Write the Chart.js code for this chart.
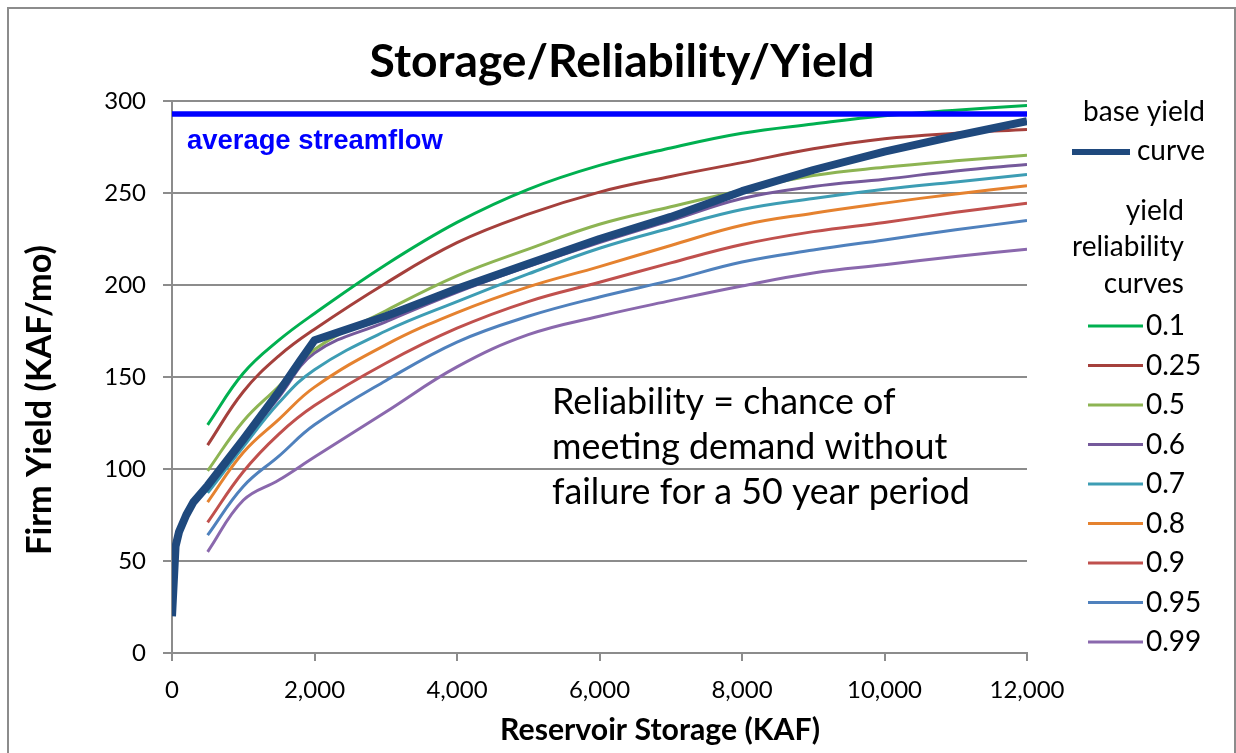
<!DOCTYPE html>
<html>
<head>
<meta charset="utf-8">
<title>Storage/Reliability/Yield</title>
<script src="https://cdn.jsdelivr.net/npm/chart.js@4.4.1/dist/chart.umd.min.js"></script>
<style>
    html, body { margin: 0; padding: 0; background: #fff; }
    #wrap { width: 1236px; height: 753px; position: relative; }
</style>
</head>
<body>
<div id="wrap"><canvas id="yieldChart"></canvas></div>
<script>
// reservoir storage (KAF) where the reliability curves were sampled
const storage = [500, 1000, 1500, 2000, 3000, 4000, 5000, 6000, 7000, 8000, 9000, 10000, 11000, 12000];

// firm yield (KAF/mo) for each reliability level
const rel010 = [124, 152, 170, 184.5, 211, 234, 252, 265, 274.5, 282.5, 287.5, 292, 295, 297.5];
const rel025 = [113, 142, 161.5, 176, 201, 223, 238.5, 250.5, 259, 266.5, 274, 279.5, 282.5, 284.5];
const rel050 = [99, 126, 145, 165, 186, 205, 219.5, 233, 242.5, 251.5, 259.5, 264, 267.5, 270.5];
const rel060 = [91, 115, 139, 163, 180, 196, 210, 223, 235, 247, 253.5, 257.5, 262, 265.5];
const rel070 = [87, 112, 136, 154, 175, 191, 206, 220, 231, 241, 247, 252, 256, 260];
const rel080 = [82, 109, 127, 144.5, 167.5, 185, 199, 210, 221.5, 232.5, 239, 244.5, 249.5, 254];
const rel090 = [71, 98.5, 119, 134.5, 157.5, 176.5, 191, 201.5, 212, 222, 229, 234, 239.5, 244.5];
const rel095 = [64, 90.5, 107, 124, 148, 169, 183, 193.5, 202.5, 212.5, 219, 224.5, 230, 235];
const rel099 = [55, 83, 94, 106.5, 131, 155.5, 173, 183, 191.5, 199.5, 206.5, 211, 215.5, 219.5];

const reliabilityLabels = ['0.1', '0.25', '0.5', '0.6', '0.7', '0.8', '0.9', '0.95', '0.99'];
const reliabilitySeries = [rel010, rel025, rel050, rel060, rel070, rel080, rel090, rel095, rel099];

// base yield curve
const baseStorage = [0, 50, 100, 200, 300, 500, 1000, 1500, 1800, 2000, 3000, 4000, 5000, 6000, 7000, 8000, 9000, 10000, 11000, 12000];
const baseYield = [20, 58, 66, 75, 82, 91, 116, 142, 159, 170, 183, 198, 211.5, 225, 237, 251, 262.5, 272.5, 281, 289];

// average streamflow
const avgStorage = [0, 12000];
const avgFlow = [293, 293];

const colors = ['#00b050', '#a5403c', '#8db453', '#75599b', '#3d9db4', '#e5822f', '#c0504d', '#4f81bd', '#8a68ad'];
const baseColor = '#1f497d';
const gridColor = '#8c8c8c';
const CAL = 'Lato, "Liberation Sans", sans-serif';
const ARIAL = '"Liberation Sans", Arial, sans-serif';

function toPoints(xs, ys) {
    return xs.map((x, i) => ({ x: x, y: ys[i] }));
}

// font size that makes text span the given width
function fitSize(ctx, text, weight, family, width) {
    ctx.font = `${weight} 100px ${family}`;
    return 100 * width / ctx.measureText(text).width;
}

const datasets = [
    {
        label: 'average streamflow',
        data: toPoints(avgStorage, avgFlow),
        borderColor: '#0000ff',
        borderWidth: 5.5,
        tension: 0
    },
    {
        label: 'base yield curve',
        data: toPoints(baseStorage, baseYield),
        borderColor: baseColor,
        borderWidth: 8,
        tension: 0,
        borderJoinStyle: 'round'
    }
];
reliabilitySeries.forEach((series, i) => {
    datasets.push({
        label: reliabilityLabels[i],
        data: toPoints(storage, series),
        borderColor: colors[i],
        borderWidth: 3,
        tension: 0.4
    });
});

const decorations = {
    id: 'decorations',
    afterDraw(chart) {
        const ctx = chart.ctx;
        ctx.save();

        // outer frame
        ctx.strokeStyle = gridColor;
        ctx.lineWidth = 2;
        ctx.strokeRect(8, 8, 1227, 800);

        ctx.fillStyle = '#000';
        ctx.textBaseline = 'middle';

        // title
        let size = fitSize(ctx, 'Storage/Reliability/Yield', 'bold', CAL, 505);
        ctx.font = `bold ${size}px ${CAL}`;
        ctx.textAlign = 'center';
        ctx.fillText('Storage/Reliability/Yield', 622, 62);

        // axis titles
        size = fitSize(ctx, 'Reservoir Storage (KAF)', 'bold', CAL, 320);
        ctx.font = `bold ${size}px ${CAL}`;
        ctx.fillText('Reservoir Storage (KAF)', 660, 730);

        size = fitSize(ctx, 'Firm Yield (KAF/mo)', 'bold', CAL, 310);
        ctx.font = `bold ${size}px ${CAL}`;
        ctx.save();
        ctx.translate(40, 400);
        ctx.rotate(-Math.PI / 2);
        ctx.fillText('Firm Yield (KAF/mo)', 0, 0);
        ctx.restore();

        // streamflow label
        size = fitSize(ctx, 'average streamflow', 'bold', ARIAL, 256);
        ctx.font = `bold ${size}px ${ARIAL}`;
        ctx.fillStyle = '#0000ff';
        ctx.textAlign = 'left';
        ctx.fillText('average streamflow', 187, 141);

        // note
        ctx.fillStyle = '#000';
        size = fitSize(ctx, 'failure for a 50 year period', 'normal', CAL, 418);
        ctx.font = `${size}px ${CAL}`;
        ctx.fillText('Reliability = chance of', 552, 402);
        ctx.fillText('meeting demand without', 552, 447);
        ctx.fillText('failure for a 50 year period', 552, 492);

        // legend
        size = fitSize(ctx, 'reliability', 'normal', CAL, 112);
        ctx.font = `${size}px ${CAL}`;
        ctx.textAlign = 'right';
        ctx.fillText('base yield', 1205, 112);
        ctx.fillText('curve', 1205, 151);
        ctx.fillText('yield', 1184, 211);
        ctx.fillText('reliability', 1184, 247);
        ctx.fillText('curves', 1184, 284);

        ctx.strokeStyle = baseColor;
        ctx.lineWidth = 6;
        ctx.beginPath();
        ctx.moveTo(1072, 152);
        ctx.lineTo(1130, 152);
        ctx.stroke();

        ctx.textAlign = 'left';
        chart.data.datasets.slice(2).forEach((ds, i) => {
            const y = 326 + i * 39.5;
            ctx.strokeStyle = ds.borderColor;
            ctx.lineWidth = 3;
            ctx.beginPath();
            ctx.moveTo(1088, y);
            ctx.lineTo(1143, y);
            ctx.stroke();
            ctx.fillText(ds.label, 1146, y);
        });

        ctx.restore();
    }
};

Chart.defaults.font.family = CAL;
Chart.defaults.font.size = 24;
Chart.defaults.color = '#000';

new Chart(document.getElementById('yieldChart'), {
    type: 'line',
    data: { datasets: datasets },
    options: {
        responsive: true,
        maintainAspectRatio: false,
        animation: false,
        layout: {
            padding: { top: 101, right: 209, bottom: 0, left: 0 }
        },
        elements: {
            point: { radius: 0 },
            line: { fill: false }
        },
        plugins: {
            legend: { display: false },
            title: { display: false },
            tooltip: { enabled: false }
        },
        scales: {
            x: {
                type: 'linear',
                min: 0,
                max: 12000,
                ticks: {
                    stepSize: 2000,
                    padding: 15,
                    maxRotation: 0
                },
                grid: {
                    drawOnChartArea: false,
                    drawTicks: true,
                    tickLength: 8,
                    color: gridColor,
                    lineWidth: 2
                },
                border: { color: gridColor, width: 2 },
                afterFit(scale) { scale.height = 100; }
            },
            y: {
                min: 0,
                max: 300,
                ticks: {
                    stepSize: 50,
                    padding: 17
                },
                grid: {
                    tickLength: 9,
                    color: gridColor,
                    lineWidth: 2
                },
                border: { color: gridColor, width: 2 },
                afterFit(scale) { scale.width = 172; }
            }
        }
    },
    plugins: [decorations]
});
</script>
</body>
</html>
